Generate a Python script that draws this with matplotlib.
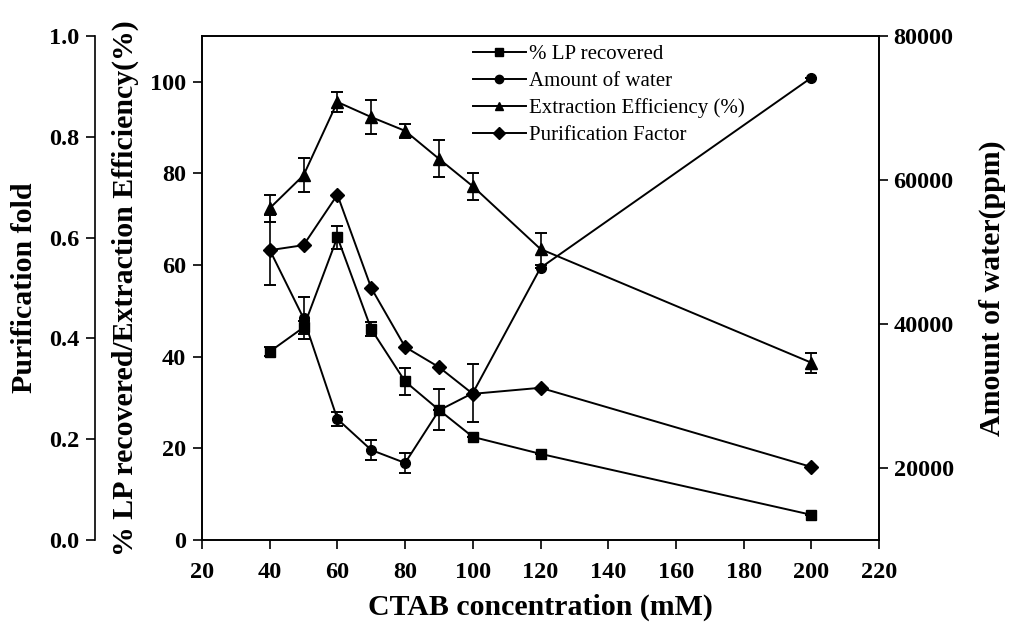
import numpy as np
import matplotlib.pyplot as plt
from matplotlib.lines import Line2D

plt.rcParams["font.family"] = ["Liberation Serif", "DejaVu Serif"]

# data
ctab = [40, 50, 60, 70, 80, 90, 100, 120, 200]

lp_recovered = [41.1, 46.4, 66.1, 46.0, 34.6, 28.4, 22.5, 18.8, 5.5]
lp_err = [1.0, 1.5, 2.5, 1.5, 3.0, 4.5, 0, 0, 0]

water = [50300, 40800, 26800, 22500, 20700, 28000, 30400, 47800, 74200]
water_err = [4900, 2900, 1000, 1400, 1400, 0, 4000, 0, 0]

efficiency = [72.4, 79.6, 95.6, 92.3, 89.3, 83.2, 77.2, 63.5, 38.7]
eff_err = [3.0, 3.7, 2.2, 3.7, 1.5, 4.0, 3.0, 3.5, 2.2]

purif = [0.575, 0.585, 0.685, 0.50, 0.383, 0.343, 0.29, 0.302, 0.145]

labels = ["% LP recovered", "Amount of water", "Extraction Efficiency (%)", "Purification Factor"]
markers = ["s", "o", "^", "D"]

W, H = 1009, 630
fig = plt.figure(figsize=(W / 100, H / 100), dpi=100)
L, R, T, B = 202, 879, 36, 540
ax = fig.add_axes([L / W, 1 - B / H, (R - L) / W, (B - T) / H])

TS = 17.5   # tick label size
LS = 21.5   # axis label size
ekw = dict(color="black", lw=1.4, capsize=4, capthick=1.4, elinewidth=1.2, ms=7)

ax.errorbar(ctab, lp_recovered, yerr=lp_err, fmt="-s", **ekw)
ax.errorbar(ctab, efficiency, yerr=eff_err, fmt="-^", **dict(ekw, ms=8))
ax.set_xlim(20, 220)
ax.set_ylim(0, 110)
ax.set_xticks(np.arange(20, 221, 20))
ax.set_yticks(np.arange(0, 101, 20))
ax.tick_params(direction="out", length=6.5, width=1.2, labelsize=TS, pad=5)
ax.tick_params(axis="x", pad=9)
for lab in ax.get_xticklabels() + ax.get_yticklabels():
    lab.set_fontweight("bold")
ax.set_xlabel("CTAB concentration (mM)", labelpad=8, fontsize=LS, fontweight="bold")
ax.set_ylabel("% LP recovered/Extraction Efficiency(%)", labelpad=8, fontsize=LS, fontweight="bold")

# water axis on the right
ax2 = ax.twinx()
ax2.errorbar(ctab, water, yerr=water_err, fmt="-o", **ekw)
ax2.set_ylim(10000, 80000)
ax2.set_yticks([20000, 40000, 60000, 80000])
ax2.tick_params(direction="out", length=6.5, width=1.2, labelsize=TS, pad=4)
for lab in ax2.get_yticklabels():
    lab.set_fontweight("bold")
ax2.set_ylabel("Amount of water(ppm)", labelpad=18, fontsize=LS, fontweight="bold")

# purification fold axis, far left
ax3 = ax.twinx()
ax3.plot(ctab, purif, "-D", color="black", lw=1.4, ms=7)
ax3.set_ylim(0, 1.0)
ax3.yaxis.tick_left()
ax3.yaxis.set_label_position("left")
ax3.spines["left"].set_position(("axes", -(L - 95) / (R - L)))
ax3.spines["left"].set_visible(True)
for s in ["right", "top", "bottom"]:
    ax3.spines[s].set_visible(False)
ax3.set_yticks(np.arange(0, 1.01, 0.2))
ax3.yaxis.set_major_formatter(plt.FormatStrFormatter("%.1f"))
ax3.tick_params(direction="out", length=6.5, width=1.2, labelsize=TS, pad=5)
for lab in ax3.get_yticklabels():
    lab.set_fontweight("bold")
ax3.set_ylabel("Purification fold", labelpad=8, fontsize=LS, fontweight="bold")

for a in (ax, ax2, ax3):
    for s in a.spines.values():
        s.set_linewidth(1.2)

handles = [Line2D([], [], color="black", lw=1.4, marker=m, ms=6) for m in markers]
ax3.legend(handles, labels,
           loc="upper left", bbox_to_anchor=(463 / W, 1 - 34 / H),
           bbox_transform=fig.transFigure, frameon=False, fontsize=15,
           handlelength=2.5, handletextpad=0.15, labelspacing=0.35, borderpad=0)

fig.savefig("out.png", dpi=100)
